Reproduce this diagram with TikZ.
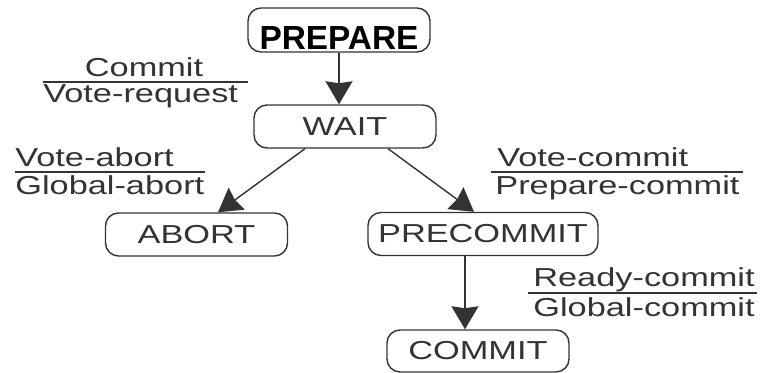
\documentclass[tikz,border=0pt]{standalone}
\usepackage{fontspec}
\setmainfont{Liberation Sans}[FakeStretch=1.32]
\newfontfamily\boldsans{Liberation Sans}
\usetikzlibrary{arrows.meta}
\definecolor{ink}{HTML}{333333}

\begin{document}
\begin{tikzpicture}[
    state/.style={draw=ink, text=ink, line width=0.8pt, rounded corners=0.26cm,
        minimum height=0.86cm, minimum width=3.64cm, inner sep=0pt,
        font=\fontsize{14.8}{17}\selectfont},
    lbl/.style={text=ink, inner sep=0pt, font=\fontsize{14.8}{17}\selectfont},
    arr/.style={draw=ink, line width=0.8pt,
        -{Stealth[length=0.46cm,width=0.54cm,inset=0.04cm]}},
    bar/.style={draw=ink, line width=0.8pt}]

    \useasboundingbox (0,0) rectangle (15.26,7.46);

    %%%%%%%%% Stati %%%%%%%%%
    \node[state, text=black, font=\boldsans\bfseries\fontsize{19}{21}\selectfont,
        text height=0.84cm, text depth=0.04cm] (prepare) at (6.78,6.86) {PREPARE};
    \node[state] (wait) at (6.90,4.93) {WAIT};
    \node[state] (abort) at (3.93,2.77) {ABORT};
    \node[state, minimum width=4.6cm] (precommit) at (9.66,2.78) {PRECOMMIT};
    \node[state, minimum height=0.84cm] (commit) at (9.56,0.44) {COMMIT};

    %%%%%%% Transizioni %%%%%%%
    \draw[arr] (prepare.south) -- (prepare.south |- wait.north);
    \draw[arr] ([xshift=-0.8cm]wait.south) -- ([xshift=0.43cm]abort.north);
    \draw[arr] ([xshift=0.86cm]wait.south) -- ([xshift=-0.18cm]precommit.north);
    \draw[arr] ([xshift=-0.36cm]precommit.south) -- ([xshift=-0.36cm]precommit.south |- commit.north);

    %%%%%%%%% Etichette %%%%%%%%%
    \node[lbl, anchor=base] (commitIn) at (2.88,5.92) {Commit};
    \node[lbl, anchor=base west] (commitOut) at (0.86,5.40) {Vote-request};
    \draw[bar] (0.86,5.82) -- (4.96,5.82);

    \node[lbl, anchor=base west] (abortIn) at (0.30,4.12) {Vote-abort};
    \node[lbl, anchor=base west] (abortOut) at (0.30,3.56) {Global-abort};
    \draw[bar] (0.30,4.02) -- (4.10,4.02);

    \node[lbl, anchor=base west] (precIn) at (9.94,4.12) {Vote-commit};
    \node[lbl, anchor=base west] (precOut) at (9.90,3.56) {Prepare-commit};
    \draw[bar] (9.82,4.02) -- (14.86,4.02);

    \node[lbl, anchor=base west] (readyIn) at (10.66,1.72) {Ready-commit};
    \node[lbl, anchor=base west] (readyOut) at (10.66,1.12) {Global-commit};
    \draw[bar] (10.56,1.60) -- (15.14,1.60);
\end{tikzpicture}
\end{document}
